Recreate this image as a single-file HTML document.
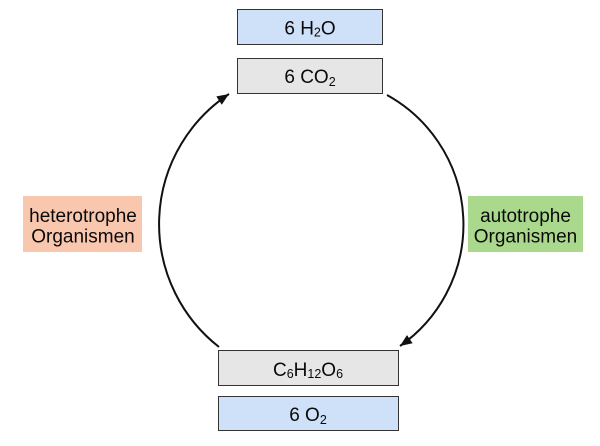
<!DOCTYPE html>
<html>
<head>
<meta charset="utf-8">
<style>
  html, body { margin:0; padding:0; background:#ffffff; }
  svg { display:block; }
  text { font-family: "Liberation Sans", Arial, sans-serif; fill:#0a0a0a; }
</style>
</head>
<body>
<svg width="600" height="446" viewBox="0 0 600 446" xmlns="http://www.w3.org/2000/svg">
  <defs>
    <marker id="ah" markerUnits="userSpaceOnUse" markerWidth="13" markerHeight="11" refX="12" refY="5" orient="auto">
      <path d="M0,0 L12,5 L0,10 z" fill="#111"/>
    </marker>
  </defs>

  <!-- top boxes -->
  <rect x="237.5" y="9.5" width="145" height="35" fill="#cfe0f9" stroke="#333" stroke-width="1"/>
  <text x="310" y="34.5" font-size="19" text-anchor="middle">6 H<tspan font-size="12.5" dy="2">2</tspan><tspan dy="-2">O</tspan></text>

  <rect x="237.5" y="58.5" width="145" height="35" fill="#e6e6e6" stroke="#333" stroke-width="1"/>
  <text x="310" y="83" font-size="19" text-anchor="middle">6 CO<tspan font-size="12.5" dy="3">2</tspan></text>

  <!-- bottom boxes -->
  <rect x="218.5" y="350.5" width="180" height="35" fill="#e6e6e6" stroke="#333" stroke-width="1"/>
  <text x="308" y="376" font-size="19" text-anchor="middle">C<tspan font-size="12.5" dy="2">6</tspan><tspan dy="-2">H</tspan><tspan font-size="12.5" dy="2">12</tspan><tspan dy="-2">O</tspan><tspan font-size="12.5" dy="2">6</tspan></text>

  <rect x="218.5" y="396.5" width="180" height="34" fill="#cfe0f9" stroke="#333" stroke-width="1"/>
  <text x="308" y="421" font-size="19" text-anchor="middle">6 O<tspan font-size="12.5" dy="3">2</tspan></text>

  <!-- side labels -->
  <rect x="23" y="196" width="119" height="56" fill="#f9c6ae"/>
  <text x="83" y="222" font-size="19" text-anchor="middle">heterotrophe</text>
  <text x="83" y="242.5" font-size="19" text-anchor="middle">Organismen</text>

  <rect x="468" y="196" width="115" height="56" fill="#aad98d"/>
  <text x="525.5" y="222" font-size="19" text-anchor="middle">autotrophe</text>
  <text x="525.5" y="242.5" font-size="19" text-anchor="middle">Organismen</text>

  <!-- arcs -->
  <path d="M219,347 A156,156 0 0 1 229,94" fill="none" stroke="#111" stroke-width="2" marker-end="url(#ah)"/>
  <path d="M387,95 A148,148 0 0 1 400,346" fill="none" stroke="#111" stroke-width="2" marker-end="url(#ah)"/>
</svg>
</body>
</html>
